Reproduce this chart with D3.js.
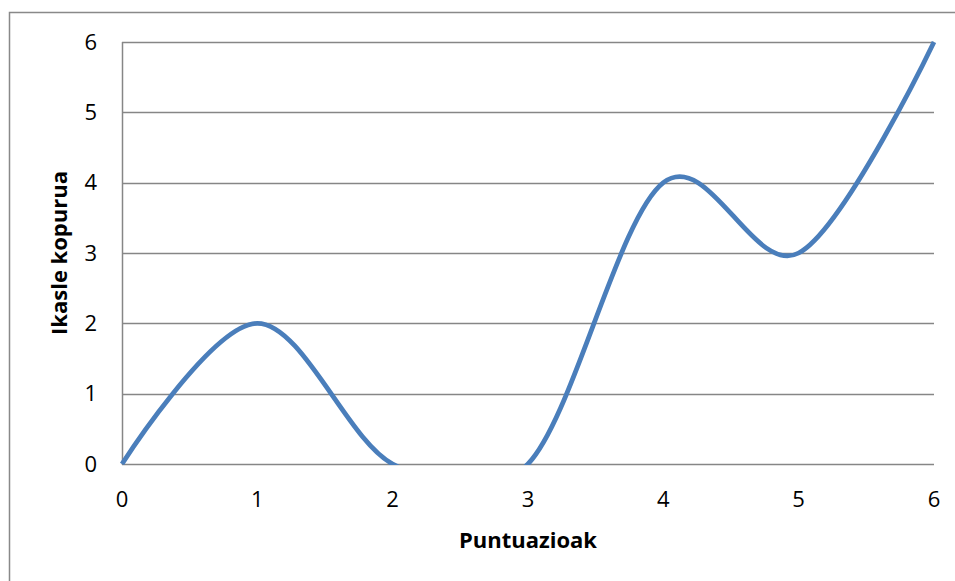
<!DOCTYPE html>
<html><head><meta charset="utf-8">
<script src="https://cdn.jsdelivr.net/npm/d3@7"></script>
<style>html,body{margin:0;padding:0;background:#fff;}</style>
</head><body>
<svg id="c" width="955" height="581"></svg>
<script>
const xValues = [0, 1, 2, 3, 4, 5, 6];
const yValues = [0, 2, 0, 0, 4, 3, 6];
const xTicks = [0, 1, 2, 3, 4, 5, 6];
const yTicks = [0, 1, 2, 3, 4, 5, 6];
const xTitle = "Puntuazioak";
const yTitle = "Ikasle kopurua";

const svg = d3.select("#c");
const font = "'Open Sans', sans-serif";
const m = {left: 122, right: 934, top: 42, bottom: 464};
const x = d3.scaleLinear().domain([0, 6]).range([m.left, m.right]);
const y = d3.scaleLinear().domain([0, 6]).range([m.bottom, m.top]);

// outer border
svg.append("rect").attr("x", 9.5).attr("y", 12.5).attr("width", 960).attr("height", 600)
  .attr("fill", "none").attr("stroke", "#898989").attr("stroke-width", 1.5);

// gridlines
svg.append("g").selectAll("line").data(yTicks).join("line")
  .attr("x1", m.left).attr("x2", m.right)
  .attr("y1", d => Math.round(y(d)) + 0.5).attr("y2", d => Math.round(y(d)) + 0.5)
  .attr("stroke", "#868686").attr("stroke-width", 1.5);

// left axis line
svg.append("line").attr("x1", m.left + 0.5).attr("x2", m.left + 0.5)
  .attr("y1", m.top).attr("y2", m.bottom + 1)
  .attr("stroke", "#868686").attr("stroke-width", 1.5);

// y tick labels
svg.append("g").selectAll("text").data(yTicks).join("text")
  .attr("x", 97).attr("y", d => y(d)).attr("dy", "0.35em")
  .attr("text-anchor", "end").attr("font-family", font).attr("font-size", 22)
  .attr("fill", "#000").text(d => d);

// x tick labels
svg.append("g").selectAll("text").data(xTicks).join("text")
  .attr("x", d => x(d)).attr("y", 499).attr("dy", "0.35em")
  .attr("text-anchor", "middle").attr("font-family", font).attr("font-size", 22)
  .attr("fill", "#000").text(d => d);

// titles
svg.append("text").attr("x", (m.left + m.right) / 2).attr("y", 548)
  .attr("text-anchor", "middle").attr("font-family", font).attr("font-weight", "bold")
  .attr("font-size", 22).text(xTitle);
svg.append("text").attr("transform", `translate(67,${(m.top + m.bottom) / 2}) rotate(-90)`)
  .attr("text-anchor", "middle").attr("font-family", font).attr("font-weight", "bold")
  .attr("font-size", 22).text(yTitle);

// clip
svg.append("clipPath").attr("id", "pc").append("rect")
  .attr("x", m.left - 5).attr("y", m.top - 5).attr("width", m.right - m.left + 10)
  .attr("height", m.bottom - m.top + 6);

const data = xValues.map((d, i) => [d, yValues[i]]);
const line = d3.line().x(d => x(d[0])).y(d => y(d[1])).curve(d3.curveCardinal.tension(0));
svg.append("path").datum(data).attr("d", line).attr("clip-path", "url(#pc)")
  .attr("fill", "none").attr("stroke", "#4A7EBB").attr("stroke-width", 4.75)
  .attr("stroke-linejoin", "round");
</script>
</body></html>
